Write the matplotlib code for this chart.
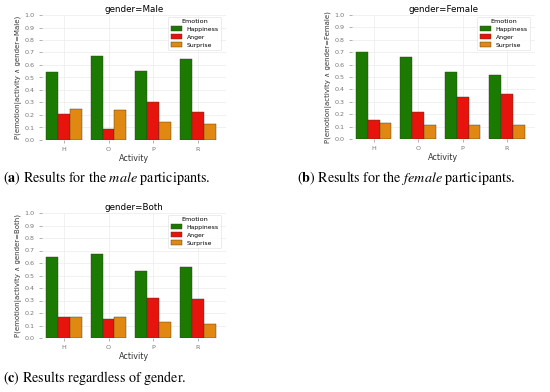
import numpy as np
import matplotlib
matplotlib.use('Agg')
import matplotlib.pyplot as plt

# --- data ---
activities = ['H', 'O', 'P', 'R']
emotions = ['Happiness', 'Anger', 'Surprise']

male_happiness = [0.54, 0.67, 0.55, 0.65]
male_anger = [0.21, 0.085, 0.30, 0.22]
male_surprise = [0.25, 0.24, 0.145, 0.13]

female_happiness = [0.70, 0.66, 0.54, 0.52]
female_anger = [0.155, 0.22, 0.335, 0.36]
female_surprise = [0.13, 0.11, 0.115, 0.11]

both_happiness = [0.65, 0.67, 0.54, 0.565]
both_anger = [0.17, 0.15, 0.32, 0.31]
both_surprise = [0.165, 0.17, 0.125, 0.115]

colors = ['#1a7a02', '#e6140c', '#e08812']

plt.rcParams['mathtext.fontset'] = 'stix'

W, H = 550, 392
fig = plt.figure(figsize=(W / 100, H / 100), dpi=100)


def add_panel(left, right, y0, y1, gender, series):
    # pixel box -> figure fraction
    ax = fig.add_axes([left / W, (H - y0) / H, (right - left) / W, (y0 - y1) / H])
    x = np.arange(len(activities))
    width = 0.8 / 3
    for i, (vals, name) in enumerate(zip(series, emotions)):
        ax.bar(x + (i - 1) * width, vals, width, color=colors[i],
               edgecolor='#3a3a20', linewidth=0.3, label=name, zorder=2)
    ax.set_xlim(-0.5, 3.63)
    ax.set_ylim(0, 1.0)
    ax.set_yticks(np.arange(0, 1.01, 0.1))
    ax.set_yticklabels([f'{v:.1f}' for v in np.arange(0, 1.01, 0.1)])
    ax.set_xticks(x)
    ax.set_xticklabels(activities)
    ax.tick_params(labelsize=4.6, colors='#777777', length=2.5, width=0.4, pad=2.5)
    ax.grid(True, color='#ececec', linewidth=0.5, zorder=0)
    for s in ax.spines.values():
        s.set_visible(False)
    ax.set_title(f'gender={gender}', fontsize=6.3, pad=2)
    ax.set_xlabel('Activity', fontsize=5.8, labelpad=1.5, color='#333333')
    ax.set_ylabel(f'P(emotion|activity \u2227 gender={gender})', fontsize=5.0,
                  labelpad=1.5, color='#333333')
    leg = ax.legend(title='Emotion', loc='upper right', fontsize=4.4,
                    title_fontsize=4.6, frameon=True, handlelength=1.8,
                    handleheight=0.9, borderpad=0.4, labelspacing=0.35,
                    handletextpad=0.8, bbox_to_anchor=(0.99, 1.01))
    leg.get_frame().set_edgecolor('#dddddd')
    leg.get_frame().set_linewidth(0.5)
    return ax


add_panel(41.5, 226, 140, 15, 'Male', [male_happiness, male_anger, male_surprise])
add_panel(351.5, 535, 139, 15, 'Female', [female_happiness, female_anger, female_surprise])
add_panel(41.5, 226, 338, 213, 'Both', [both_happiness, both_anger, both_surprise])

cap = dict(fontsize=10.2, family='STIXGeneral', va='center', ha='left')
fig.text(3 / W, 1 - 178 / H, r'($\mathbf{a}$) Results for the $\mathit{male}$ participants.', **cap)
fig.text(297 / W, 1 - 178 / H, r'($\mathbf{b}$) Results for the $\mathit{female}$ participants.', **cap)
fig.text(3 / W, 1 - 378 / H, r'($\mathbf{c}$) Results regardless of gender.', **cap)

fig.savefig('out.png', dpi=100)
